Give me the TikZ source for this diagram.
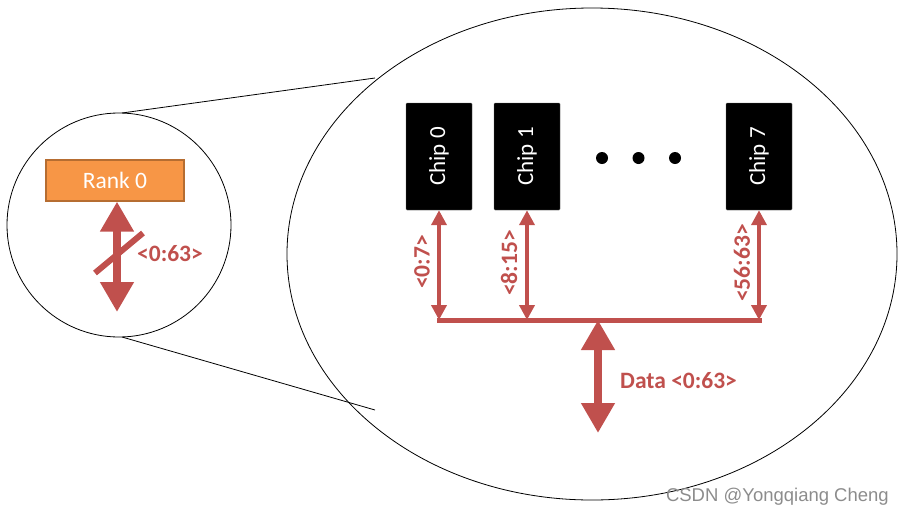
\documentclass[tikz,border=0pt]{standalone}
\usepackage{fontspec}
\setmainfont{Carlito}
\newfontfamily\wmfont{Liberation Sans}
\usetikzlibrary{arrows.meta,shapes.geometric}
\definecolor{busred}{HTML}{C0504D}
\definecolor{rankfill}{HTML}{F79646}
\definecolor{rankdraw}{HTML}{B66D31}
\tikzset{
  x=1pt,y=-1pt,
  bigarrow/.style={draw=busred,line width=8pt,{Triangle[width=32pt,length=30pt]}-{Triangle[width=32pt,length=30pt]}},
  chiparrow/.style={draw=busred,line width=4pt,{Triangle[width=15pt,length=15pt]}-{Triangle[width=15pt,length=15pt]}},
  chipbox/.style={fill=black,draw=black!60,rounded corners=1pt,minimum width=66pt,minimum height=107pt,inner sep=0pt,text=white},
  chiptext/.style={text=white,font=\fontsize{23}{27}\selectfont,rotate=90},
  redlabel/.style={text=busred,font=\bfseries\fontsize{23.5}{27}\selectfont,inner sep=0pt},
}
\begin{document}
\begin{tikzpicture}
\useasboundingbox (0,0) rectangle (904,517);
% outlines
\node[draw=black,circle,minimum size=224pt,inner sep=0pt,line width=0.8pt] (small) at (119,225) {};
\node[draw=black,ellipse,minimum width=610pt,minimum height=492pt,inner sep=0pt,line width=0.8pt] (big) at (592,254) {};
\coordinate (st) at (122,113);
\coordinate (sb) at (122,337);
\coordinate (bt) at (375,78);
\coordinate (bb) at (375,410);
\draw[line width=0.8pt] (st) -- (bt);
\draw[line width=0.8pt] (sb) -- (bb);
% rank
\node[fill=rankfill,draw=rankdraw,line width=1.2pt,minimum width=138pt,minimum height=41pt,inner sep=0pt,text=white,font=\fontsize{23.5}{27}\selectfont] (rank) at (115,180.5) {Rank 0};
\coordinate (rankbot) at (117,312);
\draw[bigarrow] (rank.south -| rankbot) -- (rankbot);
\coordinate (sl1) at (95,273);
\coordinate (sl2) at (143,233);
\draw[busred,line width=6pt] (sl1) -- (sl2);
\node[redlabel,anchor=west] (ranklab) at (137,254) {<0:63>};
% chips
\node[chipbox] (c0) at (439,156.5) {};
\node[chiptext] at (c0) {Chip 0};
\node[chipbox] (c1) at (527,156.5) {};
\node[chiptext] at (c1) {Chip 1};
\node[chipbox] (c7) at (759,156.5) {};
\node[chiptext] at (c7) {Chip 7};
\fill (602,158) circle (6pt) (638.5,158) circle (6pt) (675,158) circle (6pt);
% bus
\coordinate (b0) at (439,320);
\coordinate (b1) at (527,320);
\coordinate (b7) at (759,320);
\coordinate (bd) at (598,320);
\coordinate (dbot) at (598,433);
\draw[chiparrow] (c0.south) -- (b0);
\draw[chiparrow] (c1.south) -- (b1);
\draw[chiparrow] (c7.south) -- (b7);
\draw[busred,line width=5pt,line cap=rect] (b0) -- (b7);
\draw[bigarrow] (bd) -- (dbot);
\node[redlabel,rotate=90] (l0) at (422,262) {<0:7>};
\node[redlabel,rotate=90] (l1) at (509,263) {<8:15>};
\node[redlabel,rotate=90] (l7) at (742,263) {<56:63>};
\node[redlabel,anchor=west] (dlab) at (620,381) {Data <0:63>};
\node[text=black!45,font=\wmfont\fontsize{18.5}{22}\selectfont,anchor=east,inner sep=0pt] (wm) at (889,497) {CSDN @Yongqiang Cheng};
\end{tikzpicture}
\end{document}
